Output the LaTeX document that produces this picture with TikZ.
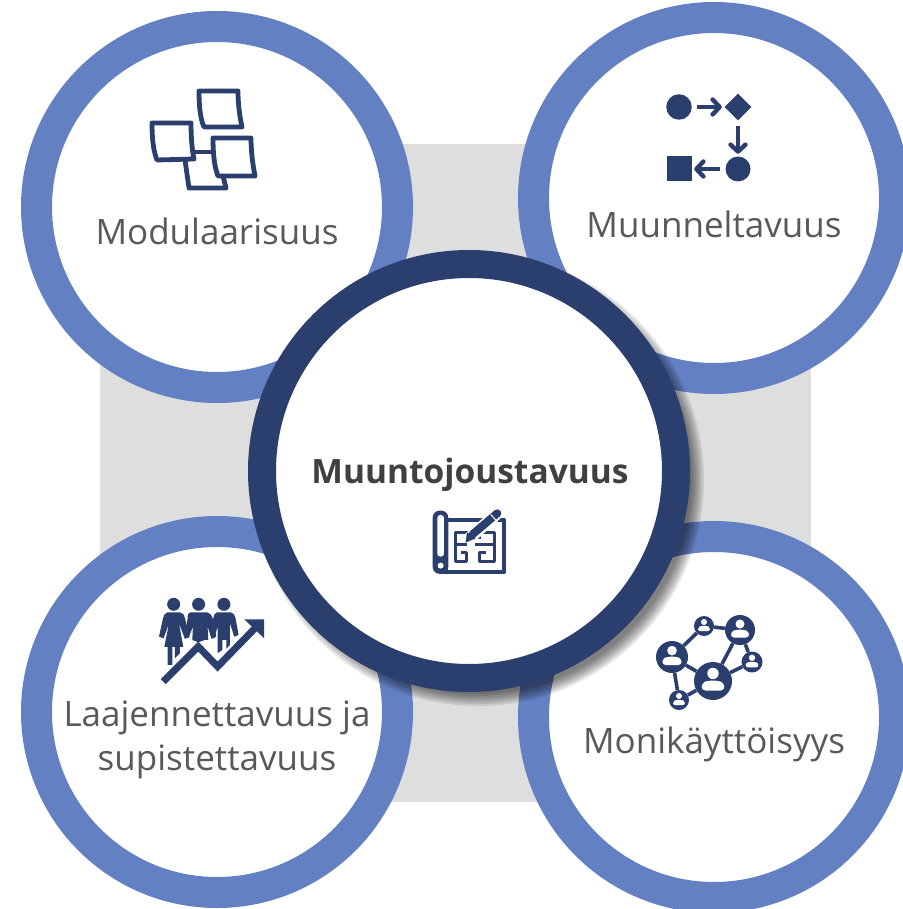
\documentclass[tikz,border=0pt]{standalone}
\usepackage{fontspec}
\setmainfont{Open Sans}
\usetikzlibrary{arrows.meta,shapes.geometric}
\definecolor{ringblue}{HTML}{6380C2}
\definecolor{darkblue}{HTML}{2A3F6E}
\definecolor{backgray}{HTML}{DEDEDE}
\definecolor{labelgray}{HTML}{595959}
\definecolor{titlegray}{HTML}{404040}
\tikzset{
  ring/.style={circle,draw=ringblue,fill=white,line width=31pt,minimum size=361pt,inner sep=0pt},
  hub/.style={circle,draw=darkblue,fill=white,line width=28pt,minimum size=414pt,inner sep=0pt},
  ringlabel/.style={text=labelgray,font=\fontsize{35}{44}\selectfont,align=center,inner sep=0pt},
  icon/.style={draw=darkblue,line join=round},
  solid icon/.style={fill=darkblue,draw=none},
  flowarrow/.style={draw=darkblue,line width=4.6pt,shorten >=2.5pt,shorten <=5pt,-{Straight Barb[length=7pt,width=15pt,line width=4.4pt,round]}},
  netnode/.style={circle,fill=darkblue,inner sep=0pt},
  netedge/.style={draw=darkblue,line width=3.6pt}
}
\begin{document}
\begin{tikzpicture}[x=1pt,y=-1pt]
  \useasboundingbox (0,0) rectangle (902,909);

  \fill[backgray] (100,144) rectangle (811,802);

  \begin{scope}[every node/.style={ring}]
    \node (modular) at (217,207) {};
    \node (variable) at (714,198) {};
    \node (scalable) at (217,712) {};
    \node (multiuse) at (714,717) {};
  \end{scope}

  % soft shadow below the middle circle
  \foreach \r in {214,216,...,226}
    \fill[black,opacity=.09] (478,480) circle (\r pt);
  \node (center) [hub] at (469,471) {};

  \node (modularlabel) [ringlabel] at (217,231) {Modulaarisuus};
  \node (variablelabel) [ringlabel] at (714,224) {Muunneltavuus};
  \node (scalablelabel) [ringlabel] at (217,740) {Laajennettavuus ja\\supistettavuus};
  \node (multiuselabel) [ringlabel] at (714,744) {Monikäyttöisyys};
  \node (centerlabel) [ringlabel,text=titlegray,font=\bfseries\fontsize{33.5}{44}\selectfont] at (470,475) {Muuntojoustavuus};

  % notes
  \begin{scope}[icon,line width=4.8pt]
    \draw (185,160) -- (189,188) -- (226,188) -- (223,176);
    \draw (193,152) -- (213,152);
    \draw (199,91) -- (238,91) .. controls (238,105) and (240,118) .. (242,127) -- (204,127) .. controls (200,118) and (199,105) .. cycle;
    \draw (152,123) -- (191,123) .. controls (191,137) and (192,150) .. (194,159) -- (157,160) .. controls (153,150) and (152,137) .. cycle;
    \draw[fill=white] (213,138) -- (251,138) .. controls (251,152) and (253,166) .. (255,176) -- (218,176) .. controls (214,166) and (213,152) .. cycle;
  \end{scope}

  % flow
  \begin{scope}[every node/.style={solid icon,inner sep=0pt}]
    \node (flowa) [circle,minimum size=25.5pt] at (679,107) {};
    \node (flowb) [diamond,aspect=1,minimum size=27pt] at (738,107) {};
    \node (flowc) [circle,minimum size=25pt] at (738,169) {};
    \node (flowd) [minimum size=25pt] at (679,169) {};
  \end{scope}
  \draw[flowarrow] (flowa) -- (flowb);
  \draw[flowarrow] (flowb) -- (flowc);
  \draw[flowarrow] (flowc) -- (flowd);

  % plan
  \begin{scope}[shift={(420,495)},x=.333pt,y=-.333pt,icon]
    \draw[line width=3.8pt] (85,74) -- (253,74) -- (253,231) -- (60,231);
    \fill[darkblue,rounded corners=7pt] (38,47) rectangle (85,237);
    \fill[white,rounded corners=3pt] (52,60) rectangle (72,185);
    \fill[white] (62,212) circle (3pt);
    \draw[line width=3pt] (160,112) -- (107,112) -- (107,200) -- (140,200) -- (140,172) -- (122,172);
    \draw[line width=3pt] (190,112) -- (225,112) -- (225,200) -- (178,200) -- (178,172) -- (198,172);
    \draw[line width=3pt] (107,150) -- (140,150);
    \draw[line width=3pt] (165,150) -- (225,150);
    \draw[line width=3pt] (178,112) -- (178,132);
    \draw[white,line width=12pt] (148,130) -- (235,52);
    \draw[line width=8pt,line cap=round] (158,118) -- (232,55);
    \fill[darkblue] (137,143) -- (141,112) -- (168,130) -- cycle;
    \draw[white,line width=1pt] (212,58) -- (232,80);
  \end{scope}

  % people
  \begin{scope}[shift={(145,585)},x=.333pt,y=-.333pt]
    \fill[darkblue] (86,58) circle (6.5pt) (161,58) circle (6.5pt) (237,58) circle (6.5pt);
    \fill[darkblue] (68,82) -- (105,82) .. controls (115,84) and (118,90) .. (120,100) -- (134,155) -- (120,162) -- (102,115) -- (115,186) -- (105,186) -- (105,205) -- (90,220) -- (90,186) -- (82,186) -- (82,240) -- (68,240) -- (68,186) -- (58,186) -- (72,115) -- (56,160) -- (42,155) -- (54,100) .. controls (56,90) and (60,84) .. (68,82) -- cycle;
    \fill[darkblue] (135,82) -- (187,82) .. controls (195,84) and (200,90) .. (203,100) -- (214,155) -- (200,162) -- (188,125) -- (190,165) -- (180,165) -- (160,172) -- (142,165) -- (144,125) -- (130,160) -- (122,140) -- (128,100) .. controls (128,90) and (130,84) .. (135,82) -- cycle;
    \fill[darkblue] (216,82) -- (258,82) .. controls (266,84) and (270,90) .. (272,100) -- (281,150) -- (268,155) -- (255,115) -- (255,180) -- (244,192) -- (244,165) -- (232,165) -- (232,195) -- (218,205) -- (218,165) -- (218,125) -- (208,160) -- (198,140) -- (205,100) .. controls (206,90) and (210,84) .. (216,82) -- cycle;
    \draw[white,line width=5pt] (55,298) -- (160,190) -- (218,248) -- (340,122);
    \draw[darkblue,line width=7pt] (55,290) -- (160,185) -- (218,245) -- (335,125);
    \fill[darkblue] (358,103) -- (298,103) -- (358,160) -- cycle;
  \end{scope}

  % network
  \begin{scope}[every node/.style={netnode}]
    \node (neta) [minimum size=20pt] at (704,626) {};
    \node (netb) [minimum size=30pt] at (740,630) {};
    \node (netc) [minimum size=21pt] at (752,662) {};
    \node (netd) [minimum size=38pt] at (713,681) {};
    \node (nete) [minimum size=32pt] at (672,657) {};
    \node (netf) [minimum size=20pt] at (679,700) {};
  \end{scope}
  \path (neta) edge[netedge] (netb);
  \path (neta) edge[netedge] (nete);
  \path (netb) edge[netedge] (netc);
  \path (netb) edge[netedge] (netd);
  \path (netc) edge[netedge] (netd);
  \path (netd) edge[netedge] (nete);
  \path (nete) edge[netedge] (netf);
  \path (netf) edge[netedge] (netd);
  \foreach \cx/\cy/\r in {704/626/10,740/630/15,752/662/10.5,713/681/19,672/657/16,679/700/10} {
    \fill[white] (\cx,\cy-.4*\r) circle (.3*\r pt);
    \fill[white,rounded corners=.2*\r pt] (\cx-.6*\r,\cy+.5*\r) -- (\cx-.6*\r,\cy+.12*\r) -- (\cx-.3*\r,\cy-.02*\r) -- (\cx+.3*\r,\cy-.02*\r) -- (\cx+.6*\r,\cy+.12*\r) -- (\cx+.6*\r,\cy+.5*\r) -- cycle;
  }
\end{tikzpicture}
\end{document}
